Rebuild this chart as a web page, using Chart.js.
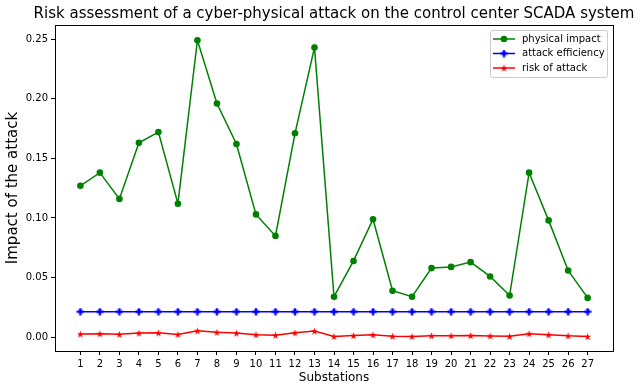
<!DOCTYPE html>
<html>
<head>
<meta charset="utf-8">
<script src="https://cdn.jsdelivr.net/npm/chart.js@4.4.1/dist/chart.umd.min.js"></script>
<style>
  html, body { margin: 0; padding: 0; background: #fff; }
  #chart { display: block; }
</style>
</head>
<body>
<canvas id="chart" width="644" height="392"></canvas>
<script>
const substations = [1, 2, 3, 4, 5, 6, 7, 8, 9, 10, 11, 12, 13, 14, 15, 16, 17, 18, 19, 20, 21, 22, 23, 24, 25, 26, 27];
const physicalImpact = [0.127, 0.138, 0.116, 0.163, 0.172, 0.112, 0.249, 0.196, 0.162, 0.103, 0.085, 0.171, 0.243, 0.034,
  0.064, 0.099, 0.039, 0.034, 0.058, 0.059, 0.063, 0.051, 0.035, 0.138, 0.098, 0.056, 0.033];
const attackEfficiency = [0.0215, 0.0215, 0.0215, 0.0215, 0.0215, 0.0215, 0.0215, 0.0215, 0.0215, 0.0215, 0.0215, 0.0215,
  0.0215, 0.0215, 0.0215, 0.0215, 0.0215, 0.0215, 0.0215, 0.0215, 0.0215, 0.0215, 0.0215, 0.0215, 0.0215, 0.0215, 0.0215];
const riskOfAttack = [0.0027, 0.0030, 0.0025, 0.0035, 0.0037, 0.0024, 0.0054, 0.0042, 0.0035, 0.0022, 0.0018, 0.0037, 0.0052,
  0.0007, 0.0014, 0.0021, 0.0009, 0.0007, 0.0013, 0.0013, 0.0014, 0.0011, 0.0008, 0.0030, 0.0021, 0.0012, 0.0007];
const yTicks = [0, 0.05, 0.10, 0.15, 0.20, 0.25];

const FONT = "'DejaVu Sans', sans-serif";

// small filled markers like matplotlib's 'P' and '*'
function makeMarker(size, color, drawPath) {
  const c = document.createElement('canvas');
  c.width = size;
  c.height = size;
  const g = c.getContext('2d');
  g.fillStyle = color;
  g.beginPath();
  drawPath(g, size / 2);
  g.closePath();
  g.fill();
  return c;
}

const plusMarker = makeMarker(8, '#0000ff', (g, m) => {
  const a = 3.5, t = 1.3;
  g.moveTo(m - t, m - a); g.lineTo(m + t, m - a); g.lineTo(m + t, m - t);
  g.lineTo(m + a, m - t); g.lineTo(m + a, m + t); g.lineTo(m + t, m + t);
  g.lineTo(m + t, m + a); g.lineTo(m - t, m + a); g.lineTo(m - t, m + t);
  g.lineTo(m - a, m + t); g.lineTo(m - a, m - t); g.lineTo(m - t, m - t);
});

const starMarker = makeMarker(9, '#ff0000', (g, m) => {
  for (let i = 0; i < 10; i++) {
    const r = i % 2 ? 1.5 : 3.8;
    const ang = -Math.PI / 2 + i * Math.PI / 5;
    g.lineTo(m + r * Math.cos(ang), m + r * Math.sin(ang) + 0.4);
  }
});

const toPoints = (vals) => vals.map((v, i) => ({ x: substations[i], y: v }));

const framePlugin = {
  id: 'frame',
  afterDraw(chart) {
    const { ctx, chartArea: a } = chart;
    ctx.save();
    ctx.strokeStyle = '#000';
    ctx.lineWidth = 1;
    ctx.strokeRect(Math.round(a.left) + 0.5, Math.round(a.top) + 0.5,
      Math.round(a.right - a.left), Math.round(a.bottom - a.top));

    // title centred over the axes
    ctx.fillStyle = '#000';
    ctx.font = '15px ' + FONT;
    ctx.textAlign = 'center';
    ctx.textBaseline = 'middle';
    ctx.fillText('Risk assessment of a cyber-physical attack on the control center SCADA system',
      (a.left + a.right) / 2, 14);

    // legend, matplotlib style
    const bx = 490.5, by = 30.5, bw = 117, bh = 47;
    ctx.fillStyle = 'rgba(255,255,255,0.8)';
    ctx.strokeStyle = '#cccccc';
    ctx.lineWidth = 1;
    ctx.beginPath();
    ctx.roundRect(bx, by, bw, bh, 2);
    ctx.fill();
    ctx.stroke();
    ctx.font = '10px ' + FONT;
    ctx.textAlign = 'left';
    chart.data.datasets.forEach((ds, i) => {
      const y = 39 + i * 14.5;
      ctx.strokeStyle = ds.borderColor;
      ctx.lineWidth = 1.5;
      ctx.beginPath();
      ctx.moveTo(493, y);
      ctx.lineTo(515, y);
      ctx.stroke();
      if (ds.pointStyle === 'circle') {
        ctx.fillStyle = ds.borderColor;
        ctx.beginPath();
        ctx.arc(504, y, 3.3, 0, Math.PI * 2);
        ctx.fill();
      } else {
        const img = ds.pointStyle;
        ctx.drawImage(img, 504 - img.width / 2, y - img.height / 2);
      }
      ctx.fillStyle = '#000';
      ctx.fillText(ds.label, 522, y);
    });
    ctx.restore();
  }
};

new Chart(document.getElementById('chart'), {
  type: 'line',
  data: {
    datasets: [
      {
        label: 'physical impact',
        data: toPoints(physicalImpact),
        borderColor: '#008000',
        backgroundColor: '#008000',
        borderWidth: 1.5,
        pointStyle: 'circle',
        pointRadius: 3.3,
        pointBorderWidth: 0,
        tension: 0,
      },
      {
        label: 'attack efficiency',
        data: toPoints(attackEfficiency),
        borderColor: '#0000ff',
        backgroundColor: '#0000ff',
        borderWidth: 1.5,
        pointStyle: plusMarker,
        tension: 0,
      },
      {
        label: 'risk of attack',
        data: toPoints(riskOfAttack),
        borderColor: '#ff0000',
        backgroundColor: '#ff0000',
        borderWidth: 1.5,
        pointStyle: starMarker,
        tension: 0,
      }
    ]
  },
  options: {
    responsive: false,
    animation: false,
    devicePixelRatio: 1,
    layout: { padding: { top: 25, right: 31, left: 0, bottom: 0 } },
    plugins: {
      legend: { display: false },
      title: { display: false },
      tooltip: { enabled: false },
    },
    scales: {
      x: {
        type: 'linear',
        min: -0.3,
        max: 28.3,
        afterBuildTicks: (axis) => { axis.ticks = substations.map(v => ({ value: v })); },
        afterFit: (axis) => { axis.height = 41; },
        grid: { display: true, drawOnChartArea: false, drawTicks: true, tickLength: 4, tickColor: '#000' },
        border: { display: true, color: '#000', width: 1 },
        ticks: { font: { family: FONT, size: 10 }, color: '#000', padding: 3, maxRotation: 0, autoSkip: false },
        title: { display: true, text: 'Substations', font: { family: FONT, size: 12 }, color: '#000', padding: { top: 0, bottom: 7 } },
      },
      y: {
        min: -0.0115,
        max: 0.2618,
        afterBuildTicks: (axis) => { axis.ticks = yTicks.map(v => ({ value: v })); },
        afterFit: (axis) => { axis.width = 55; },
        grid: { display: true, drawOnChartArea: false, drawTicks: true, tickLength: 4, tickColor: '#000' },
        border: { display: true, color: '#000', width: 1 },
        ticks: { font: { family: FONT, size: 10 }, color: '#000', padding: 3, callback: (v) => v.toFixed(2) },
        title: { display: true, text: 'Impact of the attack', font: { family: FONT, size: 15 }, color: '#000', padding: { top: 4, bottom: 0 } },
      }
    }
  },
  plugins: [framePlugin]
});
</script>
</body>
</html>
